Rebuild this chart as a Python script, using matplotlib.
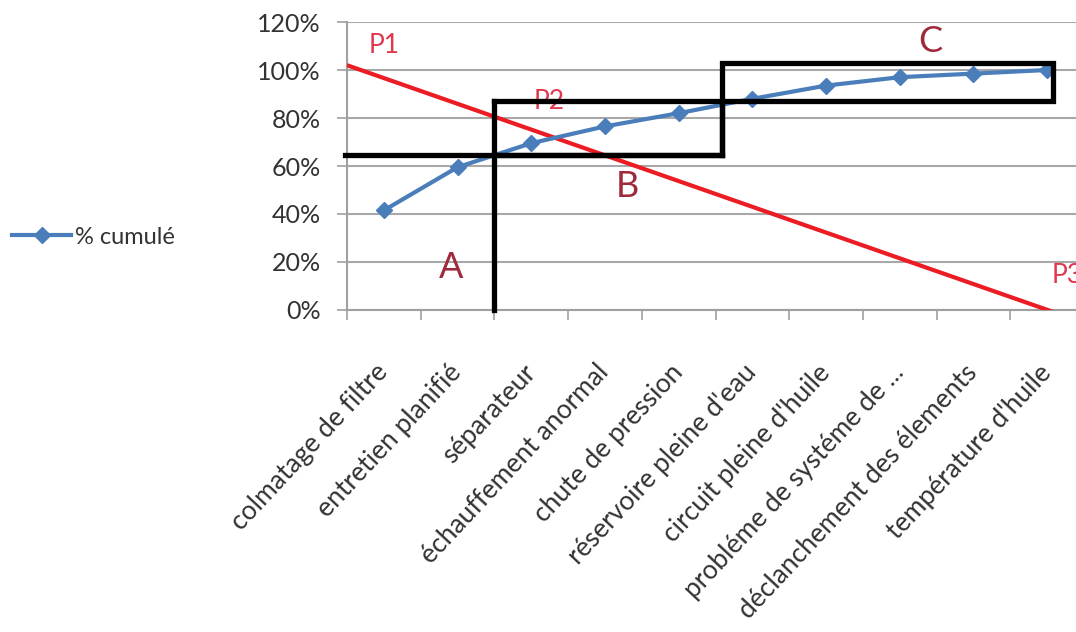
import matplotlib.pyplot as plt
from matplotlib.ticker import FixedLocator, PercentFormatter

plt.rcParams['font.family'] = ['Lato', 'DejaVu Sans']

categories = ["colmatage de filtre", "entretien planifié", "séparateur",
              "échauffement anormal", "chute de pression", "réservoire pleine d'eau",
              "circuit pleine d'huile", "probléme de systéme de ...",
              "déclanchement des élements", "température d'huile"]
cumul = [0.415, 0.595, 0.695, 0.765, 0.82, 0.88, 0.935, 0.97, 0.985, 1.0]

# droite rouge P1 -> P3
red_x = [-0.5, 9.12]
red_y = [1.02, -0.012]

# zones A / B / C (traits noirs)
zone_a_x = [-0.53, 4.59]
zone_a_y = [0.646, 0.646]
zone_v_x = [1.5, 1.5]
zone_v_y = [0.0, 0.87]
zone_b_x = [1.5, 4.59, 4.59, 1.5]
zone_b_y = [0.87, 0.87, 0.646, 0.646]
zone_c_x = [4.59, 9.08, 9.08, 4.59, 4.59]
zone_c_y = [0.87, 0.87, 1.03, 1.03, 0.646]

labels_p = [("P1", 0.0, 1.104, 'center'), ("P2", 2.25, 0.867, 'center'),
            ("P3", 9.06, 0.142, 'left')]
labels_zone = [("A", 0.91, 0.175), ("B", 3.3, 0.513), ("C", 7.41, 1.117)]

fig = plt.figure(figsize=(10.76, 6.32), dpi=100)
ax = fig.add_axes([347 / 1076, 1 - 310 / 632, 737 / 1076, 288 / 632])

x = list(range(len(categories)))
ax.plot(x, cumul, color='#4a7ebb', lw=3, marker='D', markersize=8.5,
        label='% cumulé', zorder=4)
ax.plot(red_x, red_y, color='#ec1c24', lw=3, zorder=3, solid_capstyle='butt')

for xs, ys in [(zone_a_x, zone_a_y), (zone_v_x, zone_v_y),
               (zone_b_x, zone_b_y), (zone_c_x, zone_c_y)]:
    ax.plot(xs, ys, color='black', lw=3.8, zorder=5, clip_on=False,
            solid_joinstyle='miter')

for txt, tx, ty, ha in labels_p:
    ax.text(tx, ty, txt, color='#e0364e', fontsize=19, ha=ha, va='center',
            zorder=4, clip_on=False)
for txt, tx, ty in labels_zone:
    ax.text(tx, ty, txt, color='#9e2a3c', fontsize=26, ha='center',
            va='center', zorder=4)

ax.set_xlim(-0.5, 9.5)
ax.set_ylim(0, 1.2)
ax.yaxis.set_major_locator(FixedLocator([0, 0.2, 0.4, 0.6, 0.8, 1.0, 1.2]))
ax.yaxis.set_major_formatter(PercentFormatter(1.0, decimals=0))
ax.set_xticks(x)
ax.set_xticklabels(categories, rotation=47, ha='right', va='center',
                   rotation_mode='anchor')
ax.set_xticks([i - 0.5 for i in range(len(categories) + 1)], minor=True)
ax.tick_params(axis='x', which='major', length=0, pad=42, labelsize=19,
               labelcolor='#333333')
ax.tick_params(axis='x', which='minor', length=7, width=1.2, color='#a0a0a0')
ax.tick_params(axis='y', length=7, width=1.2, color='#a0a0a0', pad=12,
               labelsize=18, labelcolor='#333333')

ax.grid(axis='y', color='#a8a8a8', lw=1.5)
ax.set_axisbelow(True)
for side in ['top', 'right']:
    ax.spines[side].set_visible(False)
for side in ['left', 'bottom']:
    ax.spines[side].set_color('#a0a0a0')
    ax.spines[side].set_linewidth(1.5)

ax.legend(loc='center left', bbox_to_anchor=(12 / 1076, 1 - 237 / 632),
          bbox_transform=fig.transFigure, frameon=False, fontsize=17,
          handlelength=2.5, handletextpad=0.15, borderpad=0, borderaxespad=0,
          labelcolor='#333333')

fig.savefig('out.png', dpi=100)
